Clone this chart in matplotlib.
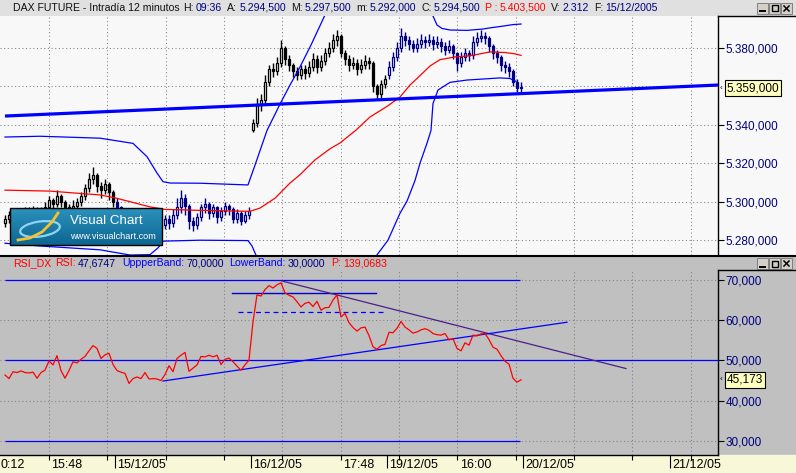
import numpy as np
import matplotlib
matplotlib.use('Agg')
import matplotlib.pyplot as plt
from matplotlib.patches import Rectangle, Ellipse
from matplotlib.transforms import blended_transform_factory as blend

plt.rcParams['font.family'] = ['Liberation Sans', 'DejaVu Sans']

# ---------------- data ----------------
session_lengths = [28, 34, 34, 34]
session_colors = ['#000000', '#000080', '#000000', '#000080']

opens = [5289, 5291, 5293, 5290, 5294, 5293, 5295, 5294, 5296, 5293, 5295, 5297, 5301, 5299, 5303, 5300, 5297, 5295, 5298, 5300, 5303, 5307, 5312, 5314, 5308, 5306, 5309, 5305,
         5300, 5297, 5293, 5290, 5288, 5286, 5284, 5283, 5285, 5282, 5284, 5287, 5288, 5291, 5289, 5293, 5297, 5302, 5298, 5290, 5288, 5292, 5297, 5299, 5294, 5297, 5292, 5295, 5298, 5296, 5291, 5294, 5290, 5293,
         5337, 5341, 5350, 5353, 5362, 5369, 5368, 5372, 5380, 5374, 5371, 5368, 5366, 5369, 5367, 5370, 5374, 5370, 5373, 5377, 5380, 5384, 5386, 5377, 5374, 5371, 5372, 5369, 5371, 5373, 5372, 5360, 5356, 5361,
         5366, 5370, 5375, 5380, 5386, 5384, 5382, 5380, 5382, 5384, 5383, 5384, 5382, 5383, 5381, 5379, 5381, 5377, 5372, 5375, 5377, 5376, 5383, 5385, 5386, 5385, 5381, 5377, 5375, 5371, 5370, 5368, 5362, 5359]
highs = [5293, 5295, 5294, 5296, 5296, 5297, 5297, 5298, 5297, 5297, 5300, 5303, 5302, 5306, 5304, 5301, 5299, 5301, 5302, 5305, 5309, 5315, 5318, 5315, 5310, 5312, 5310, 5306,
         5302, 5298, 5295, 5292, 5290, 5288, 5286, 5287, 5286, 5286, 5289, 5291, 5293, 5293, 5296, 5302, 5306, 5304, 5299, 5292, 5294, 5299, 5302, 5300, 5299, 5298, 5297, 5300, 5299, 5297, 5296, 5295, 5295, 5297,
         5343, 5354, 5356, 5366, 5371, 5372, 5375, 5384, 5381, 5376, 5372, 5370, 5371, 5371, 5373, 5377, 5376, 5376, 5380, 5383, 5387, 5389, 5387, 5379, 5376, 5375, 5374, 5374, 5376, 5375, 5373, 5361, 5363, 5366,
         5373, 5378, 5383, 5390, 5388, 5386, 5384, 5385, 5387, 5386, 5387, 5386, 5386, 5385, 5383, 5384, 5382, 5378, 5378, 5380, 5379, 5386, 5388, 5389, 5388, 5386, 5382, 5379, 5376, 5373, 5372, 5369, 5364, 5362]
lows = [5287, 5289, 5288, 5289, 5291, 5291, 5292, 5292, 5291, 5291, 5293, 5295, 5296, 5297, 5297, 5294, 5292, 5293, 5296, 5298, 5301, 5305, 5309, 5305, 5302, 5304, 5301, 5297,
        5294, 5290, 5287, 5285, 5283, 5281, 5280, 5281, 5279, 5280, 5282, 5284, 5286, 5286, 5287, 5291, 5294, 5293, 5286, 5285, 5286, 5290, 5294, 5291, 5292, 5289, 5290, 5293, 5293, 5289, 5289, 5288, 5289, 5291,
        5336, 5339, 5347, 5351, 5360, 5365, 5366, 5370, 5371, 5368, 5365, 5363, 5364, 5364, 5365, 5368, 5367, 5368, 5371, 5375, 5378, 5381, 5375, 5371, 5368, 5369, 5366, 5367, 5369, 5369, 5357, 5353, 5354, 5359,
        5364, 5368, 5373, 5378, 5381, 5379, 5378, 5378, 5380, 5380, 5381, 5379, 5380, 5378, 5376, 5377, 5374, 5368, 5370, 5373, 5373, 5374, 5381, 5383, 5382, 5378, 5374, 5372, 5368, 5367, 5365, 5360, 5357, 5357]
closes = [5291, 5293, 5290, 5294, 5293, 5295, 5294, 5296, 5293, 5295, 5297, 5301, 5299, 5303, 5300, 5297, 5295, 5298, 5300, 5303, 5307, 5312, 5314, 5308, 5306, 5309, 5305, 5300,
          5297, 5293, 5290, 5288, 5286, 5284, 5283, 5285, 5282, 5284, 5287, 5288, 5291, 5289, 5293, 5297, 5302, 5298, 5290, 5288, 5292, 5297, 5299, 5294, 5297, 5292, 5295, 5298, 5296, 5291, 5294, 5290, 5293, 5295,
          5341, 5350, 5353, 5362, 5369, 5368, 5372, 5380, 5374, 5371, 5368, 5366, 5369, 5367, 5370, 5374, 5370, 5373, 5377, 5380, 5384, 5386, 5377, 5374, 5371, 5372, 5369, 5371, 5373, 5372, 5360, 5356, 5361, 5364,
          5370, 5375, 5380, 5386, 5384, 5382, 5380, 5382, 5384, 5383, 5384, 5382, 5383, 5381, 5379, 5381, 5377, 5372, 5375, 5377, 5376, 5383, 5385, 5386, 5385, 5381, 5377, 5375, 5371, 5370, 5368, 5362, 5359, 5359]

# moving average (red) and Bollinger bands (blue), sampled at bar positions
ma_idx = [0, 11.25, 23.75, 27.5, 31.25, 36.25, 40, 48.75, 61.25, 63.75, 67.5, 71.25, 73.75, 77.5, 81.25, 83.75, 87.75, 91.25, 95.5, 98.75, 101.25, 103.75, 106.25, 108.75, 112.5, 116.25, 121.25, 125, 127.5, 129]
ma_vals = [5306, 5305.5, 5303.5, 5302, 5300, 5297.3, 5296, 5295.5, 5295, 5296.7, 5301.8, 5309.7, 5314, 5321.7, 5327.5, 5330.5, 5337.2, 5344, 5349.5, 5354.4, 5360.6, 5365.5, 5370.5, 5373.8, 5375.2, 5375.8, 5377.8, 5377.5, 5376.8, 5376]
bb_up_idx = [0, 8.75, 23.75, 32, 35.5, 38, 39.5, 41.25, 48.75, 60.75, 62.5, 65.5, 68.75, 71.25, 73.75, 76.5, 80, 85, 91.25, 98.75, 103.75, 107, 108, 109.25, 111.25, 115.5, 119.5, 121.25, 123.75, 127, 129]
bb_up_vals = [5333.6, 5334, 5333, 5330.3, 5323.4, 5314.9, 5310.4, 5309.7, 5309.6, 5308.7, 5319, 5337, 5350.7, 5360.6, 5370, 5381.4, 5397, 5404, 5408, 5407, 5402, 5396.5, 5391.8, 5390, 5389.2, 5389, 5389.7, 5390.3, 5391, 5392, 5392.3]
bb_lo_idx = [0, 8.75, 23.75, 31.25, 36.25, 38.25, 39.5, 48.75, 60.75, 61.75, 63, 66.25, 73.75, 81.25, 87.5, 92, 95.75, 98.75, 100.5, 102.5, 103.75, 105.5, 106.5, 107, 108.25, 111.25, 115.5, 123.75, 126.25, 127.75]
bb_lo_vals = [5278.4, 5277, 5275, 5272.3, 5272.5, 5276, 5279.5, 5280, 5279.8, 5277, 5271, 5262, 5255, 5253, 5260, 5269.6, 5280, 5294, 5300.3, 5311, 5320, 5330.4, 5337, 5351, 5358, 5362, 5363.2, 5364.3, 5364, 5362.5]
trend_idx = [0, 178.25]
trend_vals = [5344.5, 5360.6]

rsi = [46.4, 45.5, 47.2, 47.0, 47.4, 47.0, 46.9, 47.1, 45.6, 47.0, 47.6, 49.9, 48.9, 51.2, 47.5, 45.6, 47.5, 49.7, 49.4, 50.3, 51.0, 52.4, 53.7, 53.0, 50.5, 51.4, 51.8, 49.0,
       47.5, 47.1, 46.8, 44.3, 45.5, 45.9, 45.5, 47.0, 45.4, 45.5, 45.4, 45.0, 46.5, 48.7, 47.2, 50.5, 51.3, 52.0, 47.3, 48.1, 48.9, 51.0, 50.9, 51.3, 50.9, 51.3, 49.0, 50.3, 50.6, 49.7, 48.6, 47.6, 48.9, 50.1,
       59.6, 66.3, 66.0, 67.6, 68.6, 68.0, 68.8, 69.3, 66.8, 66.2, 65.8, 64.6, 63.3, 64.2, 64.5, 63.4, 64.7, 62.5, 63.1, 63.2, 65.0, 66.3, 60.8, 61.7, 59.4, 58.2, 57.3, 58.1, 58.3, 56.2, 53.4, 52.8, 53.7, 54.0,
       57.0, 56.9, 58.0, 59.7, 58.3, 57.6, 56.8, 57.1, 57.6, 57.9, 57.5, 56.7, 56.4, 56.3, 56.7, 55.1, 55.4, 53.0, 52.4, 54.4, 53.8, 56.3, 56.1, 56.6, 56.7, 55.2, 53.3, 52.8, 51.2, 49.8, 49.1, 45.6, 44.6, 45.2]
rsi_upper_band = 70
rsi_lower_band = 30
rsi_mid_level = 50
rsi_band_end = 128.75
rsi_res_line = ([56.75, 92.75], [66.7, 66.7])
rsi_dash_line = ([58.25, 95.0], [62.0, 62.0])
rsi_down_trend = ([69.25, 155.25], [69.75, 48.0])
rsi_up_trend = ([39.5, 140.5], [44.9, 59.5])

price_ticks = [5280, 5300, 5320, 5340, 5380]
price_grid = [5280, 5300, 5320, 5340, 5360, 5380]
rsi_ticks = [30, 40, 50, 60, 70]
last_price = 5359.0
last_rsi = 45.173

day_bounds = [27.5, 61.5, 95.5, 129.5, 166.25]
time_labels = ['0:12', '15:48', '15/12/05', '16/12/05', '17:48', '19/12/05', '16:00', '20/12/05', '21/12/05']
time_label_pos = [-1.8, 11.0, 27.5, 61.5, 84.0, 95.5, 113.25, 129.5, 166.25]

# ---------------- layout ----------------
W, H = 796, 473
fig = plt.figure(figsize=(W / 100, H / 100), dpi=100)
fig.patch.set_facecolor('#f8f8f8')


def rect(px0, py0, px1, py1):
    return [px0 / W, 1 - py1 / H, (px1 - px0) / W, (py1 - py0) / H]


XL = (-1.25, 178.25)
grid_idx = 11.0 + 14.5833 * np.arange(-1, 12)
GRID = dict(color='#808080', lw=0.75, ls=(0, (1, 2.5)), zorder=1)
NAVY = '#000080'
DARK = '#101010'

bg = fig.add_axes([0, 0, 1, 1], zorder=-5)
bg.set_xlim(0, W); bg.set_ylim(H, 0); bg.axis('off')
bg.add_patch(Rectangle((0, 0), W, 15, color='#e0e0e0'))
bg.add_patch(Rectangle((0, 256), W, 200, color='#c0c0c0'))
bg.add_patch(Rectangle((0, 455), W, 18, color='#f8f8d8'))


def fmt_price(v):
    s = f"{v:,.3f}"
    return s.replace(',', 'X').replace('.', ',').replace('X', '.')


def fmt_rsi(v):
    return f"{v:.3f}".replace('.', ',')


# ---- price panel ----
ax1 = fig.add_axes(rect(0, 16, 718, 255))
ax1.set_facecolor('#f8f8f8')
ax1.set_xlim(*XL)
ax1.set_ylim(5272.31, 5396.47)
for v in price_grid:
    ax1.axhline(v, **GRID)
for g in grid_idx:
    ax1.axvline(g, **GRID)

idx = np.arange(len(closes))
cols = np.repeat(session_colors, session_lengths)
o = np.array(opens, float); c = np.array(closes, float)
up = c >= o
ax1.vlines(idx, lows, highs, colors=cols, lw=1.0, zorder=3)
face = np.where(up, '#f8f8f8', cols)
ax1.bar(idx, np.maximum(np.abs(c - o), 0.4), bottom=np.minimum(o, c), width=0.7,
        color=list(face), edgecolor=list(cols), linewidth=0.9, zorder=4)

ax1.plot(bb_up_idx, bb_up_vals, color='#0000ff', lw=0.9, zorder=5)
ax1.plot(bb_lo_idx, bb_lo_vals, color='#0000ff', lw=0.9, zorder=5)
ax1.plot(ma_idx, ma_vals, color='#ff0000', lw=0.9, zorder=5)
ax1.plot(trend_idx, trend_vals, color='#0000ff', lw=2.3, zorder=6, solid_capstyle='butt')

for s in ['top', 'left', 'bottom']:
    ax1.spines[s].set_visible(False)
ax1.spines['right'].set_color('black'); ax1.spines['right'].set_linewidth(1)
ax1.set_xticks([])
ax1.yaxis.tick_right()
ax1.set_yticks(price_ticks)
ax1.set_yticklabels([fmt_price(v) for v in price_ticks])
ax1.tick_params(axis='y', direction='out', length=4, width=0.8, color='black',
                labelcolor=NAVY, labelsize=8.5, pad=1.5)
tr1 = blend(ax1.transAxes, ax1.transData)
ax1.text(1.0125, last_price, fmt_price(last_price), transform=tr1, va='center', ha='left',
         fontsize=8.5, color='black', clip_on=False, zorder=20,
         bbox=dict(boxstyle='square,pad=0.15', fc='#ffffc0', ec='black', lw=0.8))
ax1.text(1.002, last_price, '‹', transform=tr1, va='center', ha='left', fontsize=6,
         color='black', clip_on=False)

# ---- RSI panel ----
ax2 = fig.add_axes(rect(0, 270, 718, 455))
ax2.set_facecolor('#c0c0c0')
ax2.set_xlim(*XL)
ax2.set_ylim(26.52, 72.48)
for v in rsi_ticks:
    ax2.axhline(v, **GRID)
for g in grid_idx:
    ax2.axvline(g, **GRID)
ax2.hlines([rsi_upper_band, rsi_lower_band], 0, rsi_band_end, color='#0000ff', lw=0.9, zorder=3)
ax2.hlines(rsi_mid_level, 0, XL[1], color='#0000ff', lw=0.9, zorder=3)
ax2.plot(*rsi_res_line, color='#0000cc', lw=1.0, zorder=3)
ax2.plot(*rsi_dash_line, color='#0000ff', lw=0.9, ls=(0, (4, 3)), zorder=3)
ax2.plot(*rsi_down_trend, color='#4b1e8c', lw=0.9, zorder=3)
ax2.plot(*rsi_up_trend, color='#0000ff', lw=0.9, zorder=3)
ax2.plot(idx, rsi, color='#ff0000', lw=0.9, zorder=4)

for s in ['top', 'left']:
    ax2.spines[s].set_visible(False)
for s in ['right', 'bottom']:
    ax2.spines[s].set_color('black'); ax2.spines[s].set_linewidth(1)
ax2.yaxis.tick_right()
ax2.set_yticks(rsi_ticks)
ax2.set_yticklabels([fmt_rsi(v) for v in rsi_ticks])
ax2.tick_params(axis='y', direction='out', length=4, width=0.8, color='black',
                labelcolor=NAVY, labelsize=8.5, pad=1.5)
ax2.set_xticks(day_bounds)
ax2.set_xticks(grid_idx[(grid_idx > XL[0]) & (grid_idx < XL[1])], minor=True)
ax2.tick_params(axis='x', which='major', direction='out', length=9.4, width=0.8, color='black', labelbottom=False)
ax2.tick_params(axis='x', which='minor', direction='out', length=3.6, width=0.8, color='black', labelbottom=False)
trx = blend(ax2.transData, ax2.transAxes)
for lab, pos in zip(time_labels, time_label_pos):
    ax2.text(pos + 0.6, -0.056, lab, transform=trx, ha='left', va='center', fontsize=9,
             color='black', clip_on=False)
tr2 = blend(ax2.transAxes, ax2.transData)
ax2.text(1.0125, last_rsi, fmt_rsi(last_rsi), transform=tr2, va='center', ha='left',
         fontsize=8.5, color='black', clip_on=False, zorder=20,
         bbox=dict(boxstyle='square,pad=0.15', fc='#ffffc0', ec='black', lw=0.8))
ax2.text(1.002, last_rsi, '‹', transform=tr2, va='center', ha='left', fontsize=6,
         color='black', clip_on=False)

# ---- foreground decorations ----
fg = fig.add_axes([0, 0, 1, 1], zorder=10)
fg.patch.set_alpha(0)
fg.axis('off')
fg.set_xlim(0, W); fg.set_ylim(H, 0)
fig.canvas.draw()
renderer = fig.canvas.get_renderer()


def seq_text(pieces, x0, y, fs):
    x = x0
    for t, col, gap in pieces:
        tx = fg.text(x, y, t, fontsize=fs, color=col, ha='left', va='center')
        x += tx.get_window_extent(renderer=renderer).width + gap


hdr = [('DAX FUTURE - Intradía 12 minutos', DARK, 4), ('H:', DARK, 2), ('09:36', NAVY, 5),
       ('A:', DARK, 2), ('5.294,500', NAVY, 5), ('M:', DARK, 2), ('5.297,500', NAVY, 5),
       ('m:', DARK, 2), ('5.292,000', NAVY, 5), ('C:', DARK, 2), ('5.294,500', NAVY, 5),
       ('P :', '#ff0000', 2), ('5.403,500', '#ff0000', 5), ('V:', DARK, 2), ('2.312', NAVY, 5),
       ('F:', DARK, 2), ('15/12/2005', NAVY, 0)]
seq_text(hdr, 13, 8, 7.6)

hdr2 = [('RSI_DX', '#ff0000', 4), ('RSI:', '#ff0000', 2), ('47,6747', NAVY, 6),
        ('UppperBand:', '#0000ff', 2), ('70,0000', NAVY, 6), ('LowerBand:', '#0000ff', 2),
        ('30,0000', NAVY, 6), ('P:', '#ff0000', 2), ('139,0683', '#ff0000', 0)]
seq_text(hdr2, 13, 263, 7.6)

fg.plot([0, W], [256, 256], color='black', lw=1.5)
fg.plot([718, W], [16, 16], color='black', lw=1)
fg.plot([718, W], [270, 270], color='black', lw=1)

# window buttons
for yb in (3, 258):
    for k, xb in enumerate((757, 769, 781)):
        fg.add_patch(Rectangle((xb, yb), 11, 11, fc='#d4d0c8', ec='#808080', lw=0.7))
        if k == 0:
            fg.plot([xb + 3, xb + 8], [yb + 8.5, yb + 8.5], color='black', lw=1.4)
        elif k == 1:
            fg.add_patch(Rectangle((xb + 2.5, yb + 2.5), 6, 6, fill=False, ec='black', lw=1))
        else:
            fg.plot([xb + 3, xb + 8], [yb + 3, yb + 8], color='black', lw=1.1)
            fg.plot([xb + 3, xb + 8], [yb + 8, yb + 3], color='black', lw=1.1)

# logo
grad = np.linspace(0, 1, 40)[:, None, None]
top_c = np.array([0.17, 0.57, 0.74]); bot_c = np.array([0.05, 0.40, 0.57])
img = top_c * (1 - grad) + bot_c * grad
fg.imshow(img, extent=(10, 162, 245, 208), aspect='auto', zorder=11, interpolation='bilinear')
fg.add_patch(Rectangle((10, 208), 152, 37, fill=False, ec='black', lw=1, zorder=12))
fg.add_patch(Ellipse((40, 229), 40, 15, angle=-8, fill=False, ec='#8fd3f5', lw=1.6, zorder=12))
fg.plot([18, 30, 42, 52, 58], [240, 238, 232, 222, 213], color='#f2c230', lw=2, zorder=13)
fg.text(70, 221, 'Visual Chart', fontsize=9.6, color='white', ha='left', va='center', zorder=13)
fg.text(70, 236, 'www.visualchart.com', fontsize=6.6, color='white', ha='left', va='center', zorder=13)

fg.set_xlim(0, W); fg.set_ylim(H, 0)

fig.savefig('out.png', dpi=100, facecolor=fig.get_facecolor())
